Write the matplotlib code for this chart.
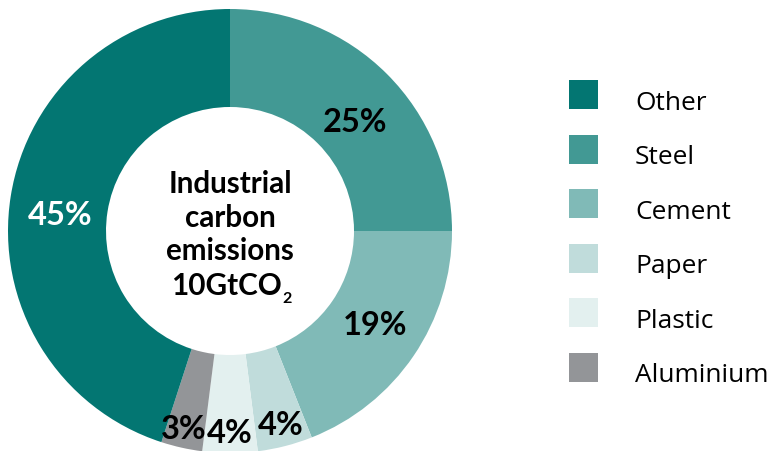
import matplotlib
matplotlib.use("Agg")
import matplotlib.pyplot as plt
from matplotlib.patches import Rectangle
import numpy as np

# data (clockwise from 12 o'clock)
slice_names = ["Steel", "Cement", "Paper", "Plastic", "Aluminium", "Other"]
slice_values = [25, 19, 4, 4, 3, 45]
slice_labels = ["25%", "19%", "4%", "4%", "3%", "45%"]
legend_names = ["Other", "Steel", "Cement", "Paper", "Plastic", "Aluminium"]
center_lines = ["Industrial", "carbon", "emissions", "10GtCO"]

colors = {"Other": "#037672", "Steel": "#429994", "Cement": "#80bab7",
          "Paper": "#c0dcdb", "Plastic": "#e3f0ef", "Aluminium": "#939598"}
label_colors = ["black", "black", "black", "black", "black", "white"]
label_radius = [0.75, 0.776, 0.903, 0.908, 0.914, 0.769]
label_dang = [-3.7, 1.5, 0.2, 0.0, -0.6, 3.5]

W, H = 769, 452
fig = plt.figure(figsize=(W / 100, H / 100), dpi=100)

cx, cy, R = 230, 452 - 232, 222
ax = fig.add_axes([(cx - R) / W, (cy - R) / H, 2 * R / W, 2 * R / H])

wedges, _ = ax.pie(slice_values, colors=[colors[n] for n in slice_names],
                   startangle=90, counterclock=False, radius=1,
                   wedgeprops=dict(width=(222 - 124) / 222, linewidth=0))
ax.set_xlim(-1, 1)
ax.set_ylim(-1, 1)
ax.set_aspect("equal")
ax.axis("off")

for w, lab, lc, r, da in zip(wedges, slice_labels, label_colors, label_radius, label_dang):
    ang = np.deg2rad((w.theta1 + w.theta2) / 2 + da)
    ax.text(r * np.cos(ang), r * np.sin(ang), lab, ha="center", va="center",
            fontsize=23.5, fontweight="bold", family="Lato", color=lc)

# centre text: baselines at y = 193, 227, 260, 295 px from top
baselines = [193, 227, 260, 295]
for line, yb in zip(center_lines, baselines):
    xoff = -4 if line.startswith("10") else 0
    t = ax.text(xoff / R, (232 - yb) / R, line, ha="center", va="baseline",
                fontsize=21.3, fontweight="bold", family="Lato", color="black")
t2 = ax.annotate("2", xy=(1, 0), xycoords=t, xytext=(0.5, -4), textcoords="offset points",
                 ha="left", va="bottom", fontsize=11.5, fontweight="bold", family="Lato")

# legend
lax = fig.add_axes([0, 0, 1, 1])
lax.set_xlim(0, W)
lax.set_ylim(H, 0)
lax.axis("off")
y0, dy = 95.5, 54.6
for i, name in enumerate(legend_names):
    yc = y0 + i * dy
    lax.add_patch(Rectangle((569, yc - 14.5), 29, 29, color=colors[name], lw=0))
    lax.text(635, yc + 14, name, ha="left", va="baseline", fontsize=18.9,
             family="Open Sans", color="black")

fig.savefig("out.png", dpi=100)
